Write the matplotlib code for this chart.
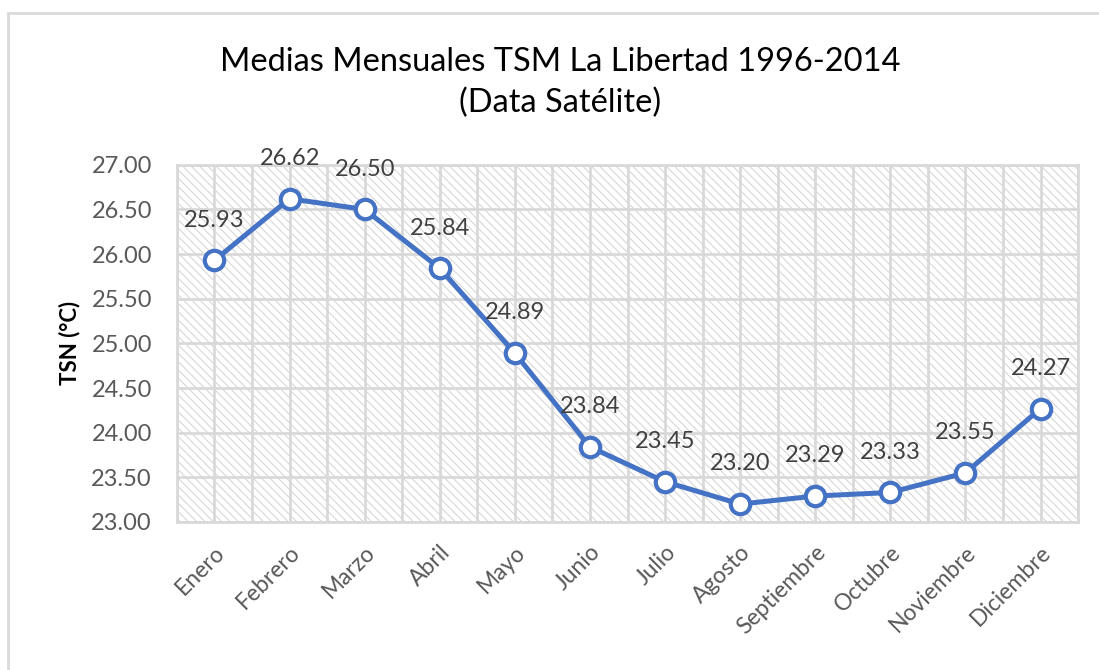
import numpy as np
import matplotlib.pyplot as plt
from matplotlib.patches import Rectangle

plt.rcParams['font.family'] = ['Lato', 'DejaVu Sans']
plt.rcParams['hatch.linewidth'] = 0.7

meses = ['Enero', 'Febrero', 'Marzo', 'Abril', 'Mayo', 'Junio', 'Julio',
         'Agosto', 'Septiembre', 'Octubre', 'Noviembre', 'Diciembre']
tsm = [25.93, 26.62, 26.50, 25.84, 24.89, 23.84, 23.45,
       23.20, 23.29, 23.33, 23.55, 24.27]
y_ticks = [23.0, 23.5, 24.0, 24.5, 25.0, 25.5, 26.0, 26.5, 27.0]

azul = '#4472C4'
gris_txt = '#595959'
gris_linea = '#d9d9d9'

fig = plt.figure(figsize=(10.99, 6.70), dpi=100)
ax = fig.add_axes([0.161, 0.221, 0.820, 0.533])

# borde del grafico (solo se ve arriba e izquierda)
fig.patches.append(Rectangle((8 / 1099, -0.05), 1.2, (670 - 13) / 670 + 0.05,
                             transform=fig.transFigure, fill=False,
                             edgecolor=gris_linea, linewidth=2))

x = np.arange(len(meses))
ax.set_xlim(-0.5, len(meses) - 0.5)
ax.set_ylim(23.0, 27.0)

# fondo rayado
ax.patch.set_facecolor('white')
ax.add_patch(Rectangle((0, 0), 1, 1, transform=ax.transAxes, facecolor='white',
                       edgecolor='#d2d2d2', hatch='\\\\\\\\', linewidth=0, zorder=0))

for xv in np.arange(-0.5, len(meses), 0.5):
    ax.axvline(xv, color=gris_linea, linewidth=2, zorder=1)
for yv in y_ticks:
    ax.axhline(yv, color=gris_linea, linewidth=2, zorder=1)

ax.plot(x, tsm, color=azul, linewidth=3.6, marker='o', markersize=14,
        markerfacecolor='white', markeredgecolor=azul, markeredgewidth=3,
        zorder=3)

for xi, v in zip(x, tsm):
    ax.annotate(f'{v:.2f}', (xi, v), xytext=(0, 29), textcoords='offset points',
                ha='center', va='center', fontsize=17, color='#404040', zorder=4)

ax.set_yticks(y_ticks)
ax.set_yticklabels([f'{v:.2f}' for v in y_ticks], fontsize=17, color=gris_txt)
ax.set_xticks(x)
ax.set_xticklabels(meses, rotation=45, ha='right', rotation_mode='anchor',
                   fontsize=16.5, color=gris_txt)
ax.tick_params(axis='both', length=0)
ax.tick_params(axis='y', pad=18)
ax.tick_params(axis='x', pad=14)

for s in ax.spines.values():
    s.set_color(gris_linea)
    s.set_linewidth(2)

ax.set_ylabel('TSN (°C)', fontsize=16, fontweight='bold', labelpad=8)

fig.text(0.51, 0.907, 'Medias Mensuales TSM La Libertad 1996-2014',
         ha='center', va='center', fontsize=23.5)
fig.text(0.51, 0.846, '(Data Satélite)', ha='center', va='center', fontsize=23.5)

fig.savefig('out.png', dpi=100)
